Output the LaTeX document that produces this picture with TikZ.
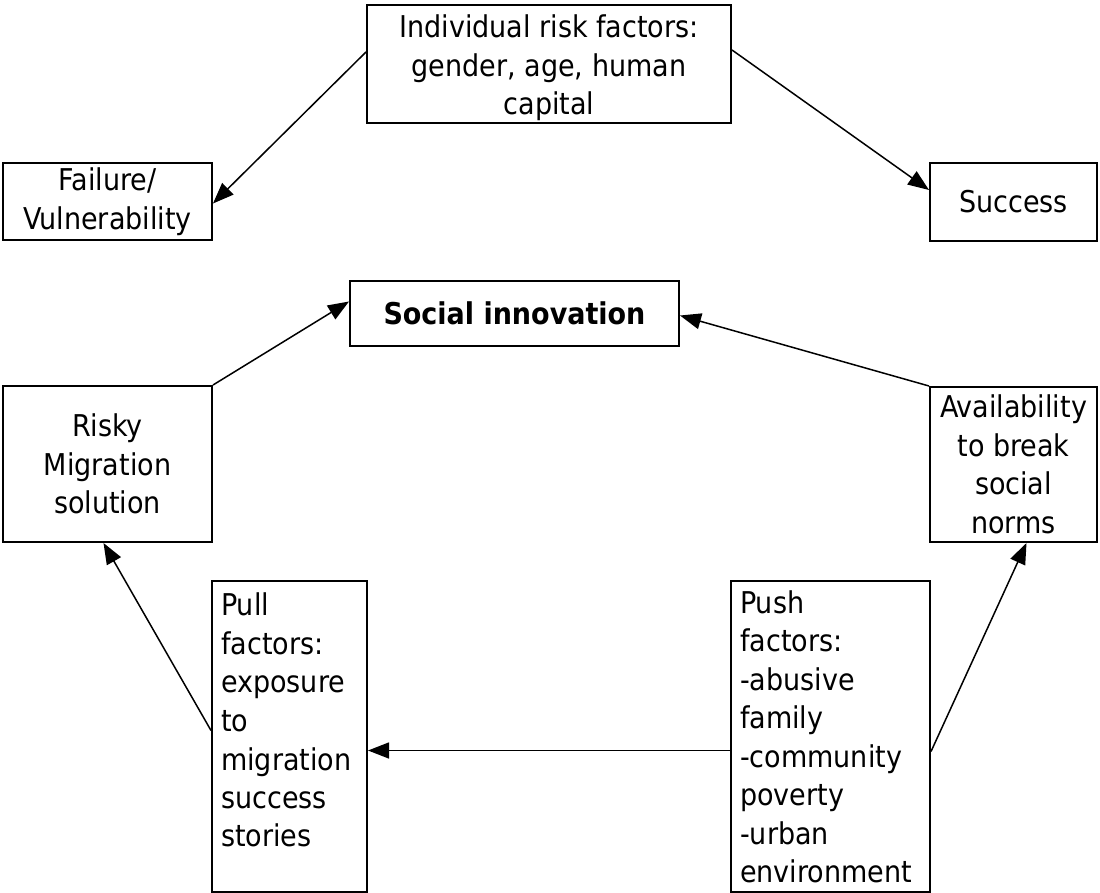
\documentclass[tikz,border=0pt]{standalone}
\usepackage{fontspec}
\setmainfont{DejaVu Sans Condensed}
\usetikzlibrary{arrows.meta}
\tikzset{
  box/.style={draw, line width=2pt, rectangle, inner sep=0pt, align=center,
    font=\fontsize{30}{38.5}\selectfont},
  txt/.style={inner sep=0pt, align=left, font=\fontsize{30}{38.5}\selectfont},
  arr/.style={line width=1.5pt, -{Triangle[length=21pt,width=16pt]}},
}
\begin{document}
\begin{tikzpicture}[x=1pt,y=-1pt]
\useasboundingbox (0,0) rectangle (1100,893);
% boxes (pixel coordinates: x right, y down)
\node[box, minimum width=364pt, minimum height=118pt] (top) at (549,64) {};
\node[txt, align=center] (topt) at ([yshift=-4pt]top.center)
  {Individual risk factors:\\gender, age, human\\capital};
\node[box, minimum width=209pt, minimum height=77pt] (fail) at (107.5,201.5)
  {Failure/\\Vulnerability};
\node[box, minimum width=167pt, minimum height=78pt] (succ) at (1013.5,202)
  {Success};
\node[box, minimum width=329pt, minimum height=65pt, font=\fontsize{30}{38.5}\selectfont\bfseries] (soc) at (514.5,313.5)
  {Social innovation};
\node[box, minimum width=209pt, minimum height=156pt] (risky) at (107.5,464)
  {Risky\\Migration\\solution};
\node[box, minimum width=167pt, minimum height=155pt] (avail) at (1013.5,464.5)
  {Availability\\to break\\social\\norms};
\node[box, minimum width=155pt, minimum height=311pt] (pull) at (289.5,736.5) {};
\node[txt, anchor=north west] (pullt) at ([xshift=10pt,yshift=-13pt]pull.north west)
  {Pull\\factors:\\exposure\\to\\migration\\success\\stories};
\node[box, minimum width=199pt, minimum height=311pt] (push) at (830.5,736.5) {};
\node[txt, anchor=north west] (pusht) at ([xshift=10pt,yshift=-10pt]push.north west)
  {Push\\factors:\\-abusive\\family\\-community\\poverty\\-urban\\environment};
% connectors
\draw[arr] ([yshift=12pt]top.west) -- ([yshift=-2pt]fail.east);
\draw[arr] ([yshift=14pt]top.east) -- ([yshift=12pt]succ.west);
\draw[arr] (risky.north east) -- ([yshift=12pt]soc.west);
\draw[arr] (avail.north west) -- ([yshift=-2pt]soc.east);
\draw[arr] ([yshift=-15pt]push.east) -- ([xshift=13pt]avail.south);
\draw[arr] ([yshift=-14pt]push.west) -- ([yshift=-14pt]pull.east);
\draw[arr] ([yshift=6pt]pull.west) -- ([xshift=-4pt]risky.south);
\end{tikzpicture}
\end{document}
